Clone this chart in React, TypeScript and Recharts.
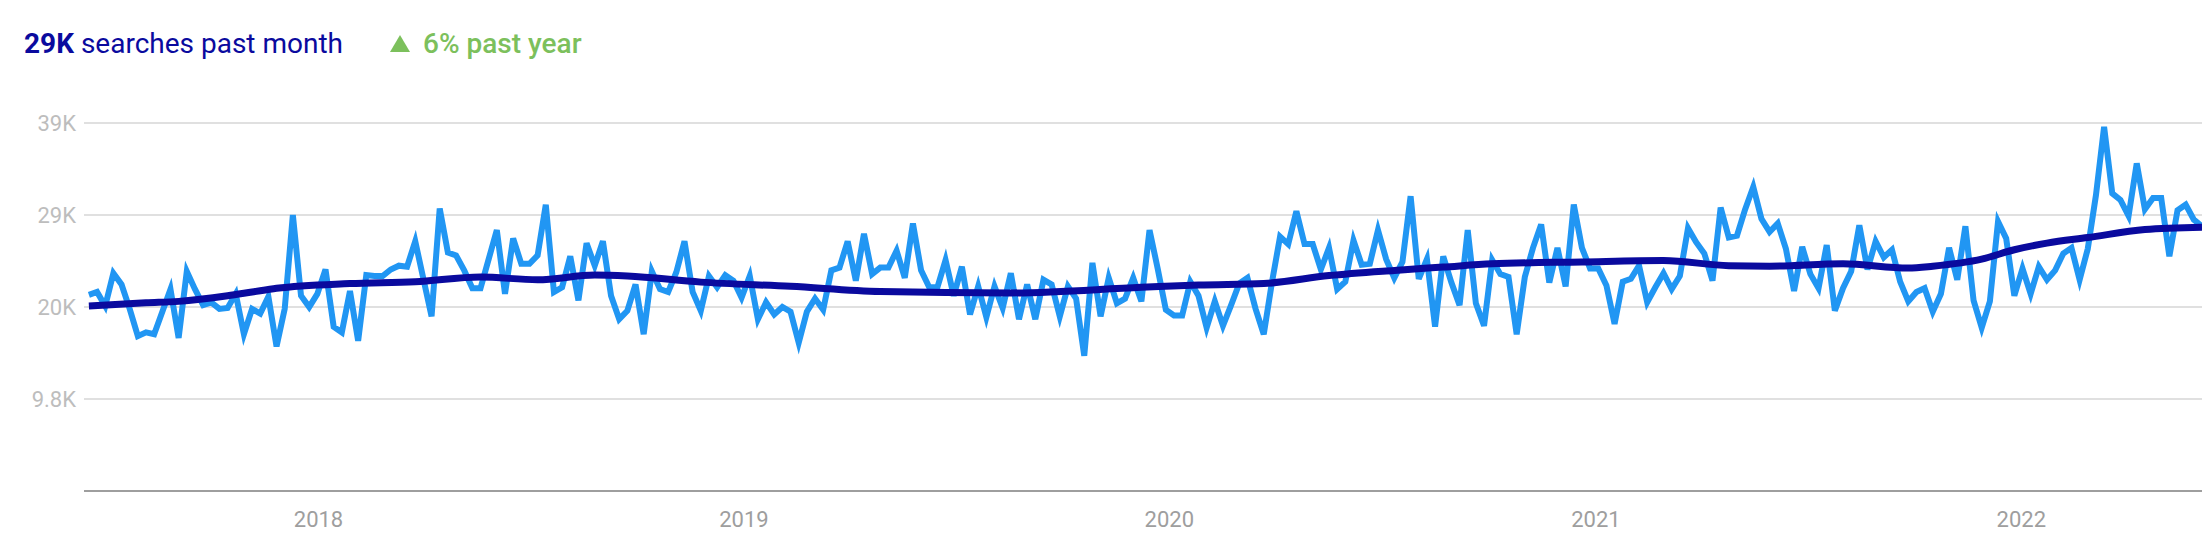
import React from "react"
import { LineChart, Line, XAxis, YAxis, CartesianGrid } from "recharts"

// weekly searches (thousands), first week starts 2017-06-18
const weeklySearches = [
  20.9, 21.2, 19.7, 23.2, 22.0, 19.4, 16.5, 16.9, 16.7, 19.1,
  21.5, 16.3, 23.4, 21.5, 19.8, 20.1, 19.4, 19.5, 21.0, 16.7,
  19.4, 18.9, 20.7, 15.4, 19.4, 29.4, 20.8, 19.6, 21.0, 23.6,
  17.5, 16.9, 21.3, 16.0, 23.0, 22.9, 22.9, 23.6, 24.0, 23.9,
  26.6, 22.6, 18.6, 30.1, 25.4, 25.1, 23.5, 21.6, 21.6, 24.7,
  27.8, 21.0, 26.9, 24.2, 24.2, 25.1, 30.5, 21.2, 21.7, 25.0,
  20.3, 26.4, 24.0, 26.6, 20.8, 18.3, 19.2, 22.0, 16.7, 23.4,
  21.5, 21.2, 23.3, 26.6, 21.2, 19.2, 22.9, 21.7, 23.0, 22.4,
  20.6, 22.9, 18.3, 20.1, 18.8, 19.6, 19.1, 15.8, 19.1, 20.5,
  19.3, 23.5, 23.8, 26.6, 22.4, 27.4, 23.1, 23.8, 23.8, 25.6,
  22.7, 28.5, 23.5, 21.7, 21.7, 24.6, 20.8, 23.9, 18.8, 21.8,
  18.5, 21.8, 19.5, 23.2, 18.3, 22.0, 18.3, 22.5, 22.0, 18.6,
  21.8, 20.5, 14.4, 24.3, 18.6, 22.7, 20.0, 20.5, 22.7, 20.2,
  27.8, 23.7, 19.3, 18.7, 18.7, 22.3, 20.8, 17.4, 20.2, 17.6,
  19.8, 22.1, 22.7, 19.4, 16.7, 22.2, 27.1, 26.3, 29.8, 26.3,
  26.3, 23.6, 25.9, 21.5, 22.3, 26.7, 24.1, 24.2, 27.8, 24.7,
  22.7, 24.4, 31.4, 22.6, 24.7, 17.5, 25.0, 22.2, 19.8, 27.8,
  20.0, 17.6, 24.6, 23.1, 22.8, 16.7, 22.8, 25.9, 28.4, 22.2,
  25.9, 21.8, 30.5, 25.9, 23.7, 23.7, 21.9, 17.8, 22.3, 22.6,
  24.0, 20.1, 21.7, 23.2, 21.5, 22.9, 28.0, 26.5, 25.3, 22.4,
  30.2, 27.0, 27.2, 30.0, 32.4, 29.0, 27.6, 28.5, 25.8, 21.3,
  26.0, 23.1, 21.6, 26.2, 19.2, 21.6, 23.4, 28.3, 23.6, 26.6,
  24.9, 25.7, 22.3, 20.2, 21.2, 21.6, 19.1, 21.0, 25.9, 22.5,
  28.2, 20.3, 17.4, 20.2, 28.7, 26.9, 20.8, 23.7, 21.0, 23.9,
  22.5, 23.5, 25.3, 25.9, 22.5, 25.8, 31.5, 38.8, 31.7, 31.0,
  29.3, 34.9, 30.0, 31.2, 31.2, 25.0, 29.9, 30.5, 28.9, 28.2,
]

// trend line: week index and value (thousands)
const trendWeeks = [0, 7, 11, 17, 20, 23, 32, 40, 48, 55, 62, 66, 75, 86, 97, 113, 129, 136, 144, 152, 160, 166, 172, 183, 193, 201, 206, 215, 223, 226, 232, 236, 240, 245, 252, 259]
const trendValues = [19.7, 20.05, 20.2, 20.8, 21.2, 21.6, 22.1, 22.3, 22.8, 22.5, 23.0, 22.9, 22.25, 21.8, 21.25, 21.1, 21.7, 21.95, 22.1, 22.95, 23.5, 23.85, 24.2, 24.4, 24.55, 24.0, 23.95, 24.2, 23.75, 23.95, 24.7, 25.7, 26.4, 27.0, 27.85, 28.1]

const yTicks = [9.8, 19.6, 29.4, 39.2]
const yearTicks = [2018, 2019, 2020, 2021, 2022]

const WEEK = 7 * 24 * 3600 * 1000
const START = Date.UTC(2017, 5, 18)

const rows = weeklySearches.map((v, i) => ({ t: START + i * WEEK, searches: v }))
const trendRows = trendWeeks.map((w, i) => ({ t: START + w * WEEK, trend: trendValues[i] }))
const xTicks = yearTicks.map((y) => Date.UTC(y, 0, 1))

const fmtY = (v: number) => (v >= 10 ? Math.round(v) + "K" : v.toFixed(1) + "K")
const fmtX = (t: number) => String(new Date(t).getUTCFullYear())

const NAVY = "#0a0a9e"
const GREEN = "#7cc05c"

export default function App() {
  return (
    <div style={{ position: "absolute", left: 0, top: 0, width: 2202, height: 540, overflow: "hidden", background: "#fff", fontFamily: "Roboto, sans-serif" }}>
      <svg width={700} height={80} style={{ position: "absolute", left: 0, top: 0 }}>
        <text x={24} y={53} fontSize={28} fontFamily="Roboto" fill={NAVY}>
          <tspan fontWeight={700}>29K</tspan>
          <tspan> searches past month</tspan>
        </text>
        <polygon points="390,52 410,52 400,35" fill={GREEN} />
        <text x={423} y={53} fontSize={28} fontWeight={500} fontFamily="Roboto" fill={GREEN}>6% past year</text>
      </svg>
      <LineChart width={2202} height={540} data={rows} margin={{ top: 123, right: 0, left: 0, bottom: 0 }}>
        <CartesianGrid vertical={false} stroke="#e0e0e0" strokeWidth={2} />
        <XAxis
          dataKey="t"
          type="number"
          domain={[START - 0.6 * WEEK, START + 259 * WEEK]}
          ticks={xTicks}
          tickFormatter={fmtX}
          height={49}
          axisLine={{ stroke: "#9e9e9e", strokeWidth: 2 }}
          tickLine={false}
          tickMargin={14}
          tick={{ fill: "#9e9e9e", fontSize: 22, fontFamily: "Roboto" }}
        />
        <YAxis
          type="number"
          domain={[0, 39.2]}
          ticks={yTicks}
          tickFormatter={fmtY}
          width={84}
          axisLine={false}
          tickLine={false}
          tick={{ fill: "#bdbdbd", fontSize: 22, fontFamily: "Roboto" }}
        />
        <Line type="linear" dataKey="searches" stroke="#2196f3" strokeWidth={6} dot={false} isAnimationActive={false} />
        <Line data={trendRows} type="monotone" dataKey="trend" stroke={NAVY} strokeWidth={7} dot={false} isAnimationActive={false} />
      </LineChart>
    </div>
  )
}
